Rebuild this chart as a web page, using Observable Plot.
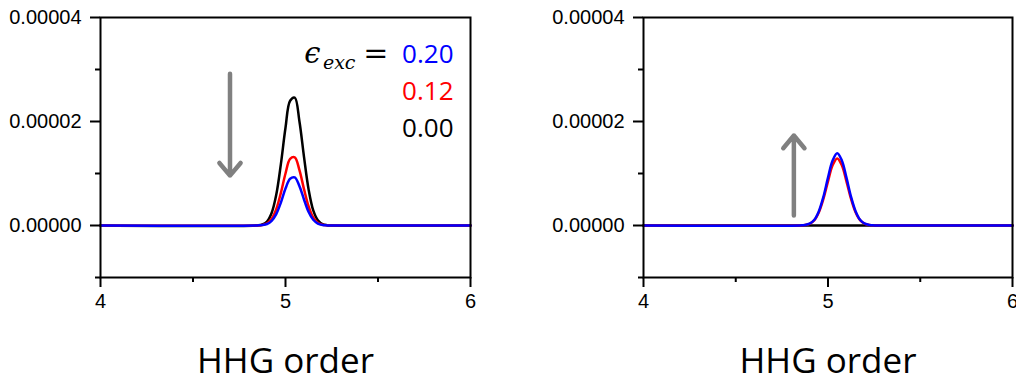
<!DOCTYPE html>
<html>
<head>
<meta charset="utf-8">
<script src="https://cdn.jsdelivr.net/npm/d3@7"></script>
<script src="https://cdn.jsdelivr.net/npm/@observablehq/plot@0.6"></script>
<style>
  body { margin: 0; background: #fff; }
  #wrap { position: relative; width: 1016px; height: 383px; overflow: hidden; background: #fff; }
  #left, #right { position: absolute; top: 0; }
  #left { left: 0; }
  #right { left: 520px; }
  #wrap svg g[aria-label="y-axis tick label"],
  #wrap svg g[aria-label="x-axis tick label"] { font-size: 20px; font-family: "Liberation Sans"; }
</style>
</head>
<body>
<div id="wrap"><div id="left"></div><div id="right"></div></div>
<script>
// ---- data (values in units of 1e-6) ----
const leftX = [4, 4.85, 4.875, 4.9, 4.925, 4.95, 4.975, 5.0, 5.025, 5.05, 5.075, 5.1, 5.125, 5.15, 5.175, 5.2, 5.225, 5.25, 6];
const leftBlack = [0, 0.04, 0.2, 0.76, 2.4, 5.9, 11.8, 18.8, 24.0, 24.6, 20.1, 13.2, 6.9, 2.9, 1.0, 0.26, 0.06, 0, 0];
const leftRed   = [0, 0.02, 0.11, 0.40, 1.28, 3.14, 6.28, 10.0, 12.8, 13.1, 10.7, 7.0, 3.67, 1.54, 0.53, 0.14, 0.03, 0, 0];
const leftBlue  = [0, 0.02, 0.08, 0.29, 0.9, 2.2, 4.4, 7.1, 9.0, 9.25, 7.6, 5.0, 2.6, 1.1, 0.38, 0.1, 0.02, 0, 0];

const rightX = [4, 4.85, 4.875, 4.9, 4.925, 4.95, 4.975, 5.0, 5.025, 5.05, 5.075, 5.1, 5.125, 5.15, 5.175, 5.2, 5.225, 5.25, 5.275, 6];
const rightBlack = [0, 0, 0, 0, 0, 0, 0, 0, 0, 0, 0, 0, 0, 0, 0, 0, 0, 0, 0, 0];
const rightRed   = [0, 0.02, 0.08, 0.32, 0.97, 2.5, 5.1, 8.5, 11.6, 12.9, 11.6, 8.5, 5.1, 2.5, 0.97, 0.32, 0.08, 0.02, 0, 0];
const rightBlue  = [0, 0.02, 0.09, 0.34, 1.05, 2.7, 5.5, 9.2, 12.5, 13.9, 12.5, 9.2, 5.5, 2.7, 1.05, 0.34, 0.09, 0.02, 0, 0];

const seriesNames = ["0.00", "0.12", "0.20"];
const seriesColors = ["black", "#ff0000", "#0000ff"];
const legendLabels = ["0.20", "0.12", "0.00"];
const legendColors = ["#0000ff", "#ff0000", "black"];

const xMajor = [4, 5, 6];
const xMinor = [4.5, 5.5];
const yMajor = [0, 0.00002, 0.00004];
const yMinor = [-0.00001, 0.00001, 0.00003];
const xLabel = "HHG order";

// arrows: x, yStart, yEnd (y in units of 1e-6)
const leftArrow = [{x: 4.70, y1: 29.2, y2: 9.6}];
const rightArrow = [{x: 4.815, y1: 1.9, y2: 17.3}];

function toRows(xs, ys, name) {
  return xs.map((x, i) => ({x, y: ys[i] * 1e-6, s: name}));
}

function panel({rows, arrow, legend, marginLeft, width, ml}) {
  const marks = [
    Plot.line(rows, {x: "x", y: "y", z: "s", stroke: "s", strokeWidth: 2.5, curve: "catmull-rom"}),
    Plot.arrow(arrow, {x1: "x", x2: "x", y1: d => d.y1 * 1e-6, y2: d => d.y2 * 1e-6,
      stroke: "#808080", strokeWidth: 4.5, headLength: 5.5, headAngle: 80}),
    Plot.frame({strokeWidth: 2}),
    Plot.axisY(yMajor, {tickSize: 10, tickPadding: 9, strokeWidth: 2, tickFormat: d => d.toFixed(5)}),
    Plot.axisY(yMinor, {tickSize: 5, strokeWidth: 2, tickFormat: () => ""}),
    Plot.axisX(xMajor, {tickSize: 10, tickPadding: 6, strokeWidth: 2, tickFormat: d => String(d)}),
    Plot.axisX(xMinor, {tickSize: 5, strokeWidth: 2, tickFormat: () => ""}),
    Plot.text([xLabel], {frameAnchor: "bottom", dy: 84, text: d => d, fontSize: 35,
      fontFamily: "Open Sans", lineAnchor: "middle", fill: "black"})
  ];
  if (legend) {
    legendLabels.forEach((lab, i) => {
      marks.push(Plot.text([lab], {frameAnchor: "top-right", dx: -17, dy: 37 + i * 37, text: d => d,
        fill: legendColors[i], fontSize: 26, fontFamily: "Open Sans", textAnchor: "end", lineAnchor: "middle"}));
    });
    marks.push(Plot.text(["ϵ"], {frameAnchor: "top-right", dx: -150, dy: 36, text: d => d,
      fontSize: 29, fontFamily: "DejaVu Serif", fontStyle: "italic", textAnchor: "end", lineAnchor: "middle", fill: "black"}));
    marks.push(Plot.text(["exc"], {frameAnchor: "top-right", dx: -115, dy: 45, text: d => d,
      fontSize: 19, fontFamily: "DejaVu Serif", fontStyle: "italic", textAnchor: "end", lineAnchor: "middle", fill: "black"}));
    marks.push(Plot.text(["="], {frameAnchor: "top-right", dx: -82, dy: 36, text: d => d,
      fontSize: 30, fontFamily: "DejaVu Serif", textAnchor: "end", lineAnchor: "middle", fill: "black"}));
  }
  return Plot.plot({
    width, height: 383,
    marginLeft, marginRight: ml, marginTop: 17, marginBottom: 106,
    style: {fontFamily: "Liberation Sans", fontSize: "20px", color: "black", background: "white", overflow: "visible"},
    x: {domain: [4, 6], label: null},
    y: {domain: [-0.00001, 0.00004], label: null},
    color: {domain: seriesNames, range: seriesColors},
    marks
  });
}

const leftRows = [
  ...toRows(leftX, leftBlack, "0.00"),
  ...toRows(leftX, leftRed, "0.12"),
  ...toRows(leftX, leftBlue, "0.20")
];
const rightRows = [
  ...toRows(rightX, rightBlack, "0.00"),
  ...toRows(rightX, rightRed, "0.12"),
  ...toRows(rightX, rightBlue, "0.20")
];

document.getElementById("left").appendChild(
  panel({rows: leftRows, arrow: leftArrow, legend: true, marginLeft: 100, width: 500, ml: 30}));
document.getElementById("right").appendChild(
  panel({rows: rightRows, arrow: rightArrow, legend: false, marginLeft: 123, width: 496, ml: 4}));
</script>
</body>
</html>
